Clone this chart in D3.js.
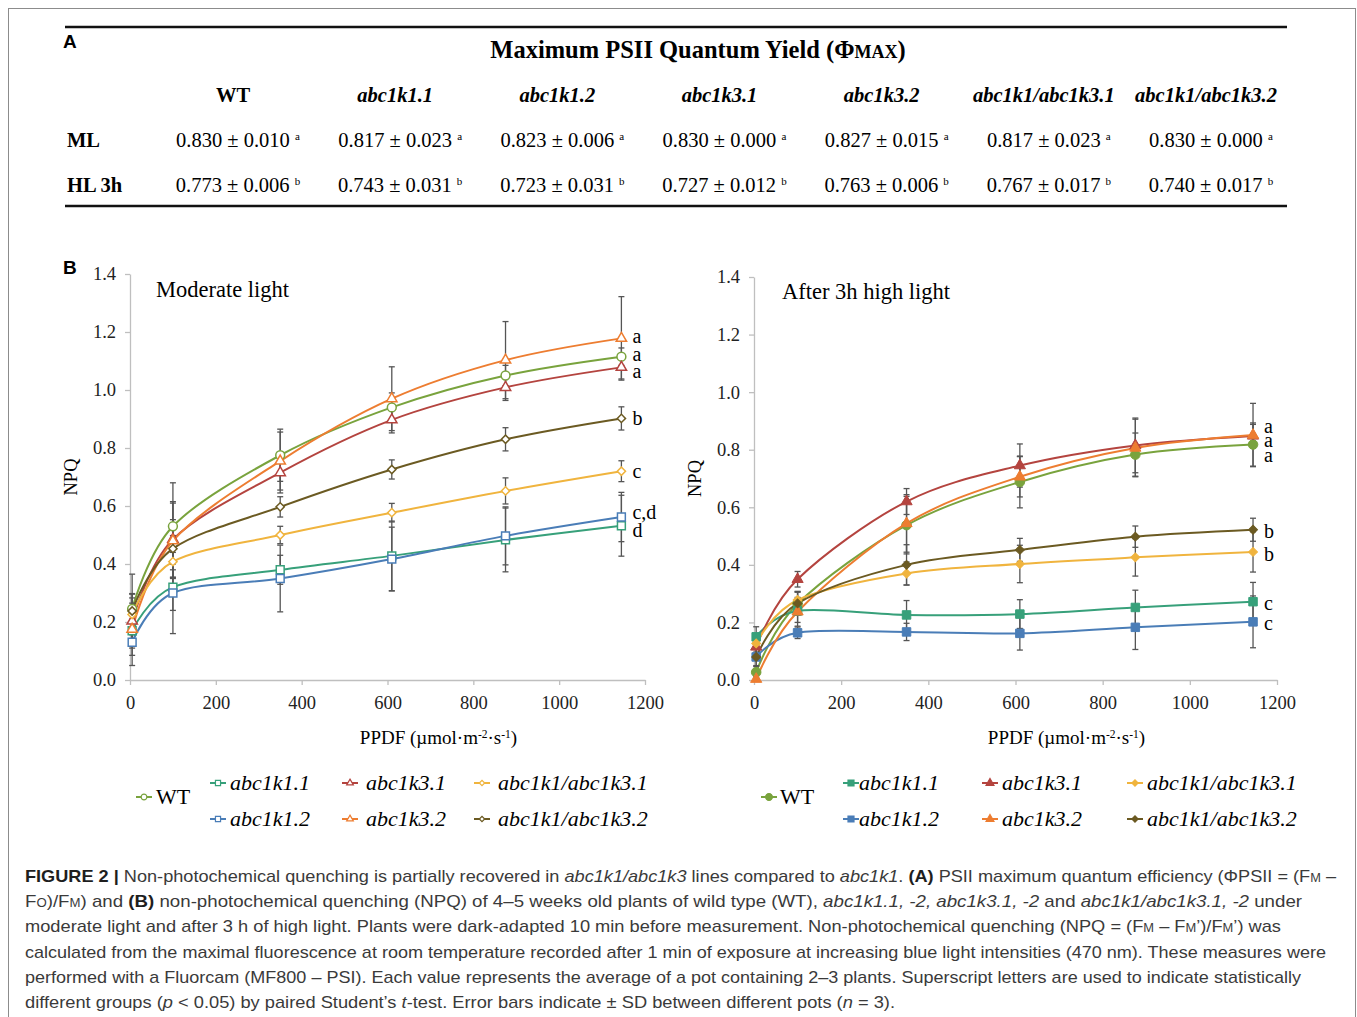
<!DOCTYPE html>
<html>
<head>
<meta charset="utf-8">
<script src="https://cdnjs.cloudflare.com/ajax/libs/d3/7.8.5/d3.min.js"></script>
<style>
body { margin: 0; background: #fff; }
svg text { font-family: "Liberation Serif", "Times New Roman", serif; }
</style>
</head>
<body>
<div id="chart"></div>
<script>
////////////////////////////////////////////////////////////
//////////////////////// Data //////////////////////////////
////////////////////////////////////////////////////////////

var genotypes = ["WT", "abc1k1.1", "abc1k1.2", "abc1k3.1", "abc1k3.2", "abc1k1/abc1k3.1", "abc1k1/abc1k3.2"];

// table A : Fv/Fm
var phiML   = [0.830, 0.817, 0.823, 0.830, 0.827, 0.817, 0.830];
var phiMLsd = [0.010, 0.023, 0.006, 0.000, 0.015, 0.023, 0.000];
var phiHL   = [0.773, 0.743, 0.723, 0.727, 0.763, 0.767, 0.740];
var phiHLsd = [0.006, 0.031, 0.031, 0.012, 0.006, 0.017, 0.017];
var phiMLgroup = ["a", "a", "a", "a", "a", "a", "a"];
var phiHLgroup = ["b", "b", "b", "b", "b", "b", "b"];

// panel B : light steps
var ppfd = [5, 100, 350, 610, 875, 1145];
var xTicks = [0, 200, 400, 600, 800, 1000, 1200];
var yTicks = [0, 0.2, 0.4, 0.6, 0.8, 1.0, 1.2, 1.4];

// moderate light NPQ
var ml_wt  = [0.245, 0.530, 0.775, 0.940, 1.050, 1.115];
var ml_k11 = [0.170, 0.320, 0.380, 0.428, 0.483, 0.532];
var ml_k12 = [0.130, 0.300, 0.350, 0.417, 0.497, 0.562];
var ml_k31 = [0.203, 0.485, 0.715, 0.897, 1.009, 1.078];
var ml_k32 = [0.175, 0.480, 0.755, 0.970, 1.103, 1.178];
var ml_d1  = [0.226, 0.408, 0.500, 0.577, 0.652, 0.720];
var ml_d2  = [0.238, 0.453, 0.597, 0.726, 0.830, 0.902];
var ml_wt_sd  = [0.12, 0.15, 0.09, 0.05, 0.035, 0.03];
var ml_k11_sd = [0.06, 0.08, 0.05, 0.12, 0.11, 0.105];
var ml_k12_sd = [0.08, 0.14, 0.115, 0.11, 0.10, 0.085];
var ml_k31_sd = [0.08, 0.13, 0.07, 0.045, 0.045, 0.04];
var ml_k32_sd = [0.09, 0.13, 0.10, 0.11, 0.133, 0.144];
var ml_d1_sd  = [0.07, 0.09, 0.03, 0.032, 0.045, 0.036];
var ml_d2_sd  = [0.06, 0.10, 0.035, 0.033, 0.04, 0.04];
var ml_letters = ["a", "d", "c,d", "a", "a", "c", "b"];

// after 3h high light NPQ
var hl_wt  = [0.027, 0.265, 0.538, 0.688, 0.783, 0.818];
var hl_k11 = [0.150, 0.240, 0.226, 0.229, 0.252, 0.272];
var hl_k12 = [0.080, 0.164, 0.167, 0.162, 0.183, 0.202];
var hl_k31 = [0.115, 0.350, 0.620, 0.745, 0.815, 0.848];
var hl_k32 = [0.003, 0.237, 0.544, 0.706, 0.806, 0.851];
var hl_d1  = [0.127, 0.278, 0.370, 0.403, 0.426, 0.445];
var hl_d2  = [0.080, 0.266, 0.400, 0.452, 0.498, 0.522];
var hl_wt_sd  = [0.02, 0.04, 0.10, 0.09, 0.075, 0.075];
var hl_k11_sd = [0.035, 0.04, 0.05, 0.05, 0.06, 0.067];
var hl_k12_sd = [0.03, 0.02, 0.03, 0.058, 0.077, 0.09];
var hl_k31_sd = [0.03, 0.027, 0.045, 0.075, 0.095, 0.04];
var hl_k32_sd = [0.01, 0.05, 0.10, 0.07, 0.10, 0.11];
var hl_d1_sd  = [0.03, 0.03, 0.04, 0.065, 0.065, 0.07];
var hl_d2_sd  = [0.05, 0.04, 0.07, 0.04, 0.037, 0.04];
var hl_letters = ["a", "c", "c", "a", "a", "b", "b"];

////////////////////////////////////////////////////////////
//////////////////////// Set-Up ////////////////////////////
////////////////////////////////////////////////////////////

var colors = ["#79a33d", "#37a07a", "#4a7db7", "#b4443f", "#ed7d31", "#f0b43e", "#6b5a22"];
var symbols = [d3.symbolCircle, d3.symbolSquare, d3.symbolSquare, d3.symbolTriangle, d3.symbolTriangle, "diamond", "diamond"];
var serif = "'Liberation Serif', 'Times New Roman', serif";
var sans = "'Liberation Sans', Arial, sans-serif";

var svg = d3.select("#chart").append("svg")
  .attr("width", 1357)
  .attr("height", 1017);

svg.append("rect")
  .attr("x", 8.5).attr("y", 8.5)
  .attr("width", 1347).attr("height", 1030)
  .attr("fill", "none")
  .attr("stroke", "#8c8c8c")
  .attr("stroke-width", 1);

////////////////////////////////////////////////////////////
////////////////////// Table A /////////////////////////////
////////////////////////////////////////////////////////////

svg.append("text").attr("x", 63).attr("y", 48)
  .style("font-family", sans).style("font-weight", "bold").style("font-size", "19px")
  .text("A");

[27, 206].forEach(function(yy) {
  svg.append("line").attr("x1", 65).attr("x2", 1287).attr("y1", yy).attr("y2", yy)
    .attr("stroke", "#111").attr("stroke-width", 2.5);
});

var title = svg.append("text").attr("x", 698).attr("y", 58)
  .attr("text-anchor", "middle")
  .style("font-weight", "bold").style("font-size", "24.5px");
title.append("tspan").text("Maximum PSII Quantum Yield (\u03A6");
title.append("tspan").style("font-size", "18px").text("MAX");
title.append("tspan").text(")");

var col = d3.scalePoint().domain(genotypes).range([233, 1206]);

svg.selectAll("text.colhead")
  .data(genotypes)
  .enter().append("text")
  .attr("class", "colhead")
  .attr("x", function(d) { return col(d); })
  .attr("y", 102)
  .attr("text-anchor", "middle")
  .style("font-weight", "bold")
  .style("font-style", function(d) { return d == "WT" ? "normal" : "italic"; })
  .style("font-size", "20.5px")
  .text(function(d) { return d; });

var fmt = d3.format(".3f");
var rows = [
  {label: "ML", y: 147, v: phiML, sd: phiMLsd, grp: phiMLgroup},
  {label: "HL 3h", y: 192, v: phiHL, sd: phiHLsd, grp: phiHLgroup}
];
rows.forEach(function(r) {
  svg.append("text").attr("x", 67).attr("y", r.y)
    .style("font-weight", "bold").style("font-size", "20.5px").text(r.label);
  genotypes.forEach(function(g, i) {
    var t = svg.append("text")
      .attr("x", col(g) + 5).attr("y", r.y)
      .attr("text-anchor", "middle")
      .style("font-size", "20.5px");
    t.append("tspan").text(fmt(r.v[i]) + " \u00B1 " + fmt(r.sd[i]) + " ");
    t.append("tspan").attr("dy", -7).style("font-size", "11px").text(r.grp[i]);
  });
});

////////////////////////////////////////////////////////////
////////////////////// Panels B ////////////////////////////
////////////////////////////////////////////////////////////

svg.append("text").attr("x", 63).attr("y", 274)
  .style("font-family", sans).style("font-weight", "bold").style("font-size", "19px")
  .text("B");

var panels = [
  {x0: 130, x1: 645, yTop: 274, yBot: 680, filled: false,
   title: "Moderate light", tx: 156, ty: 297, gap: 17.5, letterShift: 0,
   vals: [ml_wt, ml_k11, ml_k12, ml_k31, ml_k32, ml_d1, ml_d2],
   sds: [ml_wt_sd, ml_k11_sd, ml_k12_sd, ml_k31_sd, ml_k32_sd, ml_d1_sd, ml_d2_sd],
   letters: ml_letters, legendX: 136, legendCols: [0, 74, 206, 338], textPad: [20, 20, 24, 24]},
  {x0: 754, x1: 1277, yTop: 277, yBot: 680, filled: true,
   title: "After 3h high light", tx: 782, ty: 299, gap: 14.5, letterShift: 2,
   vals: [hl_wt, hl_k11, hl_k12, hl_k31, hl_k32, hl_d1, hl_d2],
   sds: [hl_wt_sd, hl_k11_sd, hl_k12_sd, hl_k31_sd, hl_k32_sd, hl_d1_sd, hl_d2_sd],
   letters: hl_letters, legendX: 761, legendCols: [0, 82, 221, 366], textPad: [19, 16, 20, 20]}
];

panels.forEach(drawPanel);

function markerPath(i, size) {
  var s = symbols[i];
  if (s == "diamond") return d3.symbol().type(d3.symbolSquare).size(size * 0.55)();
  if (s == d3.symbolTriangle) return d3.symbol().type(s).size(size * 0.75)();
  return d3.symbol().type(s).size(size)();
}

function drawPanel(p) {
  var x = d3.scaleLinear().domain([0, 1200]).range([p.x0, p.x1]);
  var y = d3.scaleLinear().domain([0, 1.4]).range([p.yBot, p.yTop]);
  var g = svg.append("g");

  var yAxis = g.append("g")
    .attr("transform", "translate(" + p.x0 + ",0)")
    .call(d3.axisLeft(y).tickValues(yTicks).tickFormat(d3.format(".1f"))
      .tickSize(5).tickSizeOuter(0).tickPadding(9));
  var xAxis = g.append("g")
    .attr("transform", "translate(0," + p.yBot + ")")
    .call(d3.axisBottom(x).tickValues(xTicks).tickFormat(d3.format("d"))
      .tickSize(5).tickSizeOuter(0).tickPadding(11));
  [yAxis, xAxis].forEach(function(a) {
    a.attr("font-family", null).attr("font-size", null);
    a.select(".domain").attr("stroke", "#bfbfbf").attr("stroke-width", 1.3);
    a.selectAll(".tick line").attr("stroke", "#bfbfbf").attr("stroke-width", 1.3);
    a.selectAll(".tick text").style("font-family", serif).style("font-size", "18.5px").attr("fill", "#222");
  });

  // axis titles
  g.append("text")
    .attr("transform", "translate(" + (p.x0 - 59) + "," + ((p.yTop + p.yBot) / 2) + ") rotate(-90)")
    .attr("text-anchor", "middle").attr("dy", "0.35em")
    .style("font-size", "18.5px").text("NPQ");
  var xt = g.append("text")
    .attr("x", (p.x0 + p.x1) / 2 + 51).attr("y", p.yBot + 64)
    .attr("text-anchor", "middle").style("font-size", "19px");
  xt.append("tspan").text("PPDF (\u00B5mol\u00B7m");
  xt.append("tspan").attr("dy", -6).style("font-size", "11.5px").text("-2");
  xt.append("tspan").attr("dy", 6).text("\u00B7s");
  xt.append("tspan").attr("dy", -6).style("font-size", "11.5px").text("-1");
  xt.append("tspan").attr("dy", 6).text(")");

  g.append("text").attr("x", p.tx).attr("y", p.ty)
    .style("font-size", "22.5px").text(p.title);

  var line = d3.line()
    .x(function(d, i) { return x(ppfd[i]); })
    .y(function(d) { return y(d); })
    .curve(d3.curveCardinal.tension(0));

  // lines
  g.selectAll("path.series")
    .data(p.vals)
    .enter().append("path")
    .attr("class", "series")
    .attr("d", line)
    .attr("fill", "none")
    .attr("stroke", function(d, i) { return colors[i]; })
    .attr("stroke-width", 2);

  // error bars
  p.vals.forEach(function(vals, i) {
    vals.forEach(function(v, j) {
      var lo = y(Math.max(0, v - p.sds[i][j])), hi = y(v + p.sds[i][j]), xx = x(ppfd[j]);
      var eb = g.append("g").attr("stroke", "#555").attr("stroke-width", 1.3);
      eb.append("line").attr("x1", xx).attr("x2", xx).attr("y1", lo).attr("y2", hi);
      eb.append("line").attr("x1", xx - 3).attr("x2", xx + 3).attr("y1", lo).attr("y2", lo);
      eb.append("line").attr("x1", xx - 3).attr("x2", xx + 3).attr("y1", hi).attr("y2", hi);
    });
  });

  // markers
  p.vals.forEach(function(vals, i) {
    g.selectAll("path.m" + i)
      .data(vals)
      .enter().append("path")
      .attr("class", "m" + i)
      .attr("d", markerPath(i, p.filled ? 72 : 62))
      .attr("transform", function(d, j) {
        return "translate(" + x(ppfd[j]) + "," + y(d) + ")" + (symbols[i] == "diamond" ? " rotate(45)" : "");
      })
      .attr("fill", p.filled ? colors[i] : "#fff")
      .attr("stroke", colors[i])
      .attr("stroke-width", p.filled ? 1 : 1.5);
  });

  // significance letters, spread apart so they don't sit on each other
  var last = ppfd.length - 1;
  var labs = p.vals.map(function(v, i) { return {t: p.letters[i], y: y(v[last])}; });
  labs.sort(function(a, b) { return a.y - b.y; });
  for (var k = 0; k < 60; k++) {
    for (var m = 1; m < labs.length; m++) {
      var gap = labs[m].y - labs[m - 1].y;
      if (gap < p.gap) {
        var push = (p.gap - gap) / 2;
        labs[m].y += push; labs[m - 1].y -= push;
      }
    }
  }
  g.selectAll("text.sig")
    .data(labs)
    .enter().append("text")
    .attr("class", "sig")
    .attr("x", x(ppfd[last]) + 11)
    .attr("y", function(d) { return d.y + p.letterShift; })
    .attr("dy", "0.33em")
    .style("font-size", "20px")
    .text(function(d) { return d.t; });

  // legend
  var pos = [[0, 797], [1, 783], [1, 819], [2, 783], [2, 819], [3, 783], [3, 819]];
  genotypes.forEach(function(name, i) {
    var c = pos[i][0];
    var lx = p.legendX + p.legendCols[c], ly = pos[i][1];
    var lg = g.append("g");
    lg.append("line").attr("x1", lx).attr("x2", lx + 16).attr("y1", ly).attr("y2", ly)
      .attr("stroke", colors[i]).attr("stroke-width", 2);
    lg.append("path")
      .attr("d", markerPath(i, p.filled ? 36 : 26))
      .attr("transform", "translate(" + (lx + 8) + "," + ly + ")" + (symbols[i] == "diamond" ? " rotate(45)" : ""))
      .attr("fill", p.filled ? colors[i] : "#fff")
      .attr("stroke", colors[i]).attr("stroke-width", 1.2);
    lg.append("text").attr("x", lx + p.textPad[c]).attr("y", ly).attr("dy", "0.33em")
      .style("font-size", "22px")
      .style("font-style", name == "WT" ? "normal" : "italic")
      .text(name);
  });
}

////////////////////////////////////////////////////////////
////////////////////// Caption /////////////////////////////
////////////////////////////////////////////////////////////

var caption = [
  [["FIGURE 2 | ", "b"], ["Non-photochemical quenching is partially recovered in ", ""], ["abc1k1/abc1k3", "i"], [" lines compared to ", ""], ["abc1k1", "i"], [". ", ""], ["(A)", "b"], [" PSII maximum quantum efficiency (\u03A6PSII = (F", ""], ["M", "s"], [" \u2013", ""]],
  [["F", ""], ["O", "s"], [")/F", ""], ["M", "s"], [") and ", ""], ["(B)", "b"], [" non-photochemical quenching (NPQ) of 4\u20135 weeks old plants of wild type (WT), ", ""], ["abc1k1.1, -2, abc1k3.1, -2", "i"], [" and ", ""], ["abc1k1/abc1k3.1, -2", "i"], [" under", ""]],
  [["moderate light and after 3 h of high light. Plants were dark-adapted 10 min before measurement. Non-photochemical quenching (NPQ = (F", ""], ["M", "s"], [" \u2013 F", ""], ["M", "s"], ["\u2019)/F", ""], ["M", "s"], ["\u2019) was", ""]],
  [["calculated from the maximal fluorescence at room temperature recorded after 1 min of exposure at increasing blue light intensities (470 nm). These measures were", ""]],
  [["performed with a Fluorcam (MF800 \u2013 PSI). Each value represents the average of a pot containing 2\u20133 plants. Superscript letters are used to indicate statistically", ""]],
  [["different groups (", ""], ["p", "i"], [" < 0.05) by paired Student\u2019s ", ""], ["t", "i"], ["-test. Error bars indicate \u00B1 SD between different pots (", ""], ["n", "i"], [" = 3).", ""]]
];
var captionWidths = [1311, 1277, 1256, 1301, 1276, 870];

caption.forEach(function(parts, li) {
  var t = svg.append("text")
    .attr("x", 25).attr("y", 882 + li * 25.2)
    .attr("textLength", captionWidths[li])
    .attr("lengthAdjust", "spacingAndGlyphs")
    .style("font-family", sans).style("font-size", "17px").attr("fill", "#3a3a3a");
  parts.forEach(function(pt) {
    var s = t.append("tspan").text(pt[0]);
    if (pt[1] == "b") s.style("font-weight", "bold").attr("fill", "#1e1e1e");
    if (pt[1] == "i") s.style("font-style", "italic");
    if (pt[1] == "s") s.style("font-size", "12px");
  });
});
</script>
</body>
</html>
